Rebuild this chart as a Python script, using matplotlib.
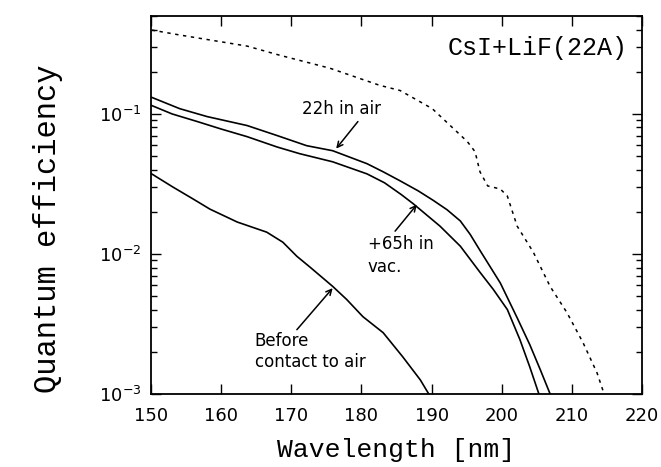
import matplotlib
matplotlib.use("Agg")
import matplotlib.pyplot as plt
from matplotlib.ticker import LogLocator, NullFormatter, MultipleLocator

# Quantum efficiency of a CsI photocathode with a 22 A LiF overcoat
wl_ref = [150.1, 154.1, 163.7, 168.4, 175.5, 182.6, 185.5, 190.1, 195.1,
          196.2, 196.9, 198.0, 199.8, 200.8, 202.2, 204.5, 206.9, 209.3,
          211.6, 213.6, 214.4, 214.6]
qe_ref = [0.397, 0.366, 0.305, 0.262, 0.212, 0.160, 0.147, 0.109, 0.0634,
          0.0537, 0.0386, 0.0306, 0.0291, 0.0259, 0.0158, 0.0103, 0.00586,
          0.00381, 0.00232, 0.00141, 0.00107, 0.001]

wl_air = [150.1, 154.1, 158.0, 163.7, 168.0, 172.2, 175.9, 180.8, 183.1,
          185.5, 188.1, 190.2, 192.2, 194.1, 195.5, 196.9, 199.8, 202.2,
          204.0, 205.5, 206.9]
qe_air = [0.1313, 0.109, 0.0957, 0.0826, 0.070, 0.0593, 0.0546, 0.0441,
          0.0386, 0.0333, 0.0282, 0.0242, 0.0207, 0.0172, 0.0138, 0.0106,
          0.0062, 0.0035, 0.00225, 0.00149, 0.001]

wl_vac = [150.1, 153.0, 156.6, 160.0, 163.7, 168.0, 171.2, 175.9, 180.8,
          183.3, 185.7, 187.4, 191.2, 194.1, 196.9, 198.8, 200.8, 202.6,
          204.0, 205.3]
qe_vac = [0.1148, 0.100, 0.0882, 0.078, 0.0688, 0.058, 0.052, 0.0455,
          0.0373, 0.0322, 0.0265, 0.0228, 0.0158, 0.01136, 0.0074, 0.00558,
          0.00401, 0.00244, 0.00156, 0.001]

wl_fresh = [150.1, 153.1, 156.0, 158.4, 162.3, 166.5, 168.8, 170.8, 172.7,
            175.9, 177.9, 180.2, 183.1, 185.9, 188.4, 189.6]
qe_fresh = [0.0373, 0.0301, 0.0247, 0.0209, 0.0169, 0.01431, 0.01213,
            0.00962, 0.00803, 0.00587, 0.00473, 0.00357, 0.00274, 0.00184,
            0.00126, 0.001]

mono = "Liberation Mono"

fig = plt.figure(figsize=(6.61, 4.67), dpi=100)
ax = fig.add_axes([0.2284, 0.1563, 0.7429, 0.8094])

ax.plot(wl_ref, qe_ref, color="black", lw=1.1, linestyle=(0, (2.2, 3.0)))
ax.plot(wl_air, qe_air, color="black", lw=1.2)
ax.plot(wl_vac, qe_vac, color="black", lw=1.2)
ax.plot(wl_fresh, qe_fresh, color="black", lw=1.2)

ax.set_yscale("log")
ax.set_xlim(150, 220)
ax.set_ylim(1e-3, 0.5)
ax.xaxis.set_major_locator(MultipleLocator(10))
ax.yaxis.set_major_locator(LogLocator(base=10, numticks=10))
ax.yaxis.set_minor_locator(LogLocator(base=10, subs=range(2, 10), numticks=10))
ax.yaxis.set_minor_formatter(NullFormatter())

ax.tick_params(which="both", direction="in", top=True, right=True,
               labelsize=13, width=1.0)
ax.tick_params(which="major", length=7)
ax.tick_params(which="minor", length=4)
ax.tick_params(axis="x", pad=9)
ax.tick_params(axis="y", pad=7)
for sp in ax.spines.values():
    sp.set_linewidth(1.3)

ax.set_xlabel("Wavelength [nm]", family=mono, fontsize=19, labelpad=10)
ax.set_ylabel("Quantum efficiency", family=mono, fontsize=22)
ax.yaxis.set_label_coords(-0.179, 0.437)

ax.text(0.97, 0.915, "CsI+LiF(22A)", transform=ax.transAxes, family=mono,
        fontsize=18, ha="right", va="center")

arrow = dict(arrowstyle="->", color="black", lw=1.1, shrinkA=0, shrinkB=0)
ax.annotate("", xy=(176.4, 0.0565), xytext=(179.5, 0.0882), arrowprops=arrow)
ax.text(171.5, 0.1076, "22h in air", fontsize=12, ha="left", va="center")

ax.annotate("", xy=(187.9, 0.0225), xytext=(184.8, 0.01455), arrowprops=arrow)
ax.text(180.9, 0.0098, "+65h in\nvac.", fontsize=12, ha="left", va="center",
        linespacing=1.35)

ax.annotate("", xy=(175.9, 0.0057), xytext=(170.8, 0.00288), arrowprops=arrow)
ax.text(164.8, 0.0020, "Before\ncontact to air", fontsize=12, ha="left",
        va="center", linespacing=1.2)

fig.savefig("out.png", dpi=100)
